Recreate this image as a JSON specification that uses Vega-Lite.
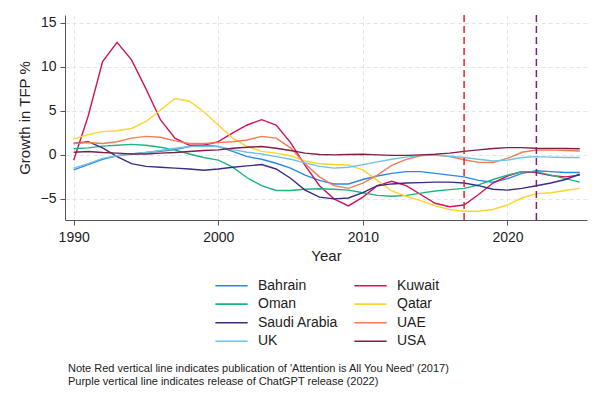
{
  "$schema": "https://vega.github.io/schema/vega-lite/v6.json",
  "width": 522,
  "height": 205,
  "autosize": {"type": "none"},
  "padding": {"left": 65, "top": 15, "right": 15, "bottom": 181},
  "background": "white",
  "title": {
    "text": ["Note Red vertical line indicates publication of 'Attention is All You Need' (2017)", "Purple vertical line indicates release of ChatGPT release (2022)"],
    "orient": "bottom",
    "anchor": "start",
    "frame": "group",
    "dx": 3,
    "offset": 14,
    "fontSize": 11,
    "fontWeight": "normal",
    "font": "Liberation Sans",
    "color": "#222",
    "lineHeight": 13
  },
  "datasets": {
    "tfp": [
      {"year": 1990, "Bahrain": -1.7, "Kuwait": -0.6, "Oman": 0.7, "Qatar": 1.8, "Saudi Arabia": 1.3, "UAE": 1.3, "UK": -1.5, "USA": 0.3},
      {"year": 1991, "Bahrain": -1.1, "Kuwait": 4.4, "Oman": 0.8, "Qatar": 2.3, "Saudi Arabia": 1.5, "UAE": 1.4, "UK": -1.0, "USA": 0.38},
      {"year": 1992, "Bahrain": -0.5, "Kuwait": 10.6, "Oman": 1.0, "Qatar": 2.65, "Saudi Arabia": 0.8, "UAE": 1.3, "UK": -0.4, "USA": 0.27},
      {"year": 1993, "Bahrain": -0.1, "Kuwait": 12.8, "Oman": 1.1, "Qatar": 2.75, "Saudi Arabia": -0.2, "UAE": 1.5, "UK": -0.1, "USA": 0.2},
      {"year": 1994, "Bahrain": 0.1, "Kuwait": 10.8, "Oman": 1.2, "Qatar": 3.0, "Saudi Arabia": -1.0, "UAE": 1.9, "UK": 0.1, "USA": 0.1},
      {"year": 1995, "Bahrain": 0.27, "Kuwait": 7.5, "Oman": 1.1, "Qatar": 3.8, "Saudi Arabia": -1.3, "UAE": 2.1, "UK": 0.27, "USA": 0.1},
      {"year": 1996, "Bahrain": 0.4, "Kuwait": 4.0, "Oman": 0.87, "Qatar": 5.1, "Saudi Arabia": -1.4, "UAE": 2.0, "UK": 0.5, "USA": 0.2},
      {"year": 1997, "Bahrain": 0.6, "Kuwait": 1.9, "Oman": 0.57, "Qatar": 6.4, "Saudi Arabia": -1.5, "UAE": 1.6, "UK": 0.75, "USA": 0.27},
      {"year": 1998, "Bahrain": 0.95, "Kuwait": 1.1, "Oman": 0.1, "Qatar": 6.1, "Saudi Arabia": -1.6, "UAE": 1.3, "UK": 0.95, "USA": 0.38},
      {"year": 1999, "Bahrain": 1.1, "Kuwait": 1.1, "Oman": -0.3, "Qatar": 4.9, "Saudi Arabia": -1.75, "UAE": 1.3, "UK": 1.0, "USA": 0.5},
      {"year": 2000, "Bahrain": 0.95, "Kuwait": 1.5, "Oman": -0.6, "Qatar": 3.4, "Saudi Arabia": -1.6, "UAE": 1.4, "UK": 0.95, "USA": 0.57},
      {"year": 2001, "Bahrain": 0.4, "Kuwait": 2.5, "Oman": -1.4, "Qatar": 1.9, "Saudi Arabia": -1.4, "UAE": 1.5, "UK": 0.6, "USA": 0.76},
      {"year": 2002, "Bahrain": -0.2, "Kuwait": 3.4, "Oman": -2.6, "Qatar": 0.95, "Saudi Arabia": -1.25, "UAE": 1.7, "UK": 0.3, "USA": 0.87},
      {"year": 2003, "Bahrain": -0.5, "Kuwait": 4.0, "Oman": -3.5, "Qatar": 0.4, "Saudi Arabia": -1.1, "UAE": 2.1, "UK": 0.1, "USA": 0.95},
      {"year": 2004, "Bahrain": -0.95, "Kuwait": 3.4, "Oman": -4.05, "Qatar": 0.2, "Saudi Arabia": -1.6, "UAE": 1.9, "UK": -0.2, "USA": 0.76},
      {"year": 2005, "Bahrain": -1.5, "Kuwait": 1.4, "Oman": -4.05, "Qatar": -0.1, "Saudi Arabia": -2.65, "UAE": 0.8, "UK": -0.5, "USA": 0.5},
      {"year": 2006, "Bahrain": -2.3, "Kuwait": -1.2, "Oman": -3.9, "Qatar": -0.7, "Saudi Arabia": -4.0, "UAE": -1.0, "UK": -0.9, "USA": 0.2},
      {"year": 2007, "Bahrain": -2.9, "Kuwait": -3.5, "Oman": -3.85, "Qatar": -1.0, "Saudi Arabia": -4.8, "UAE": -2.5, "UK": -1.3, "USA": 0.05},
      {"year": 2008, "Bahrain": -3.3, "Kuwait": -5.0, "Oman": -3.9, "Qatar": -1.1, "Saudi Arabia": -5.0, "UAE": -3.5, "UK": -1.5, "USA": 0.0},
      {"year": 2009, "Bahrain": -3.3, "Kuwait": -5.8, "Oman": -4.0, "Qatar": -1.15, "Saudi Arabia": -4.9, "UAE": -3.8, "UK": -1.4, "USA": 0.05},
      {"year": 2010, "Bahrain": -2.8, "Kuwait": -4.8, "Oman": -4.3, "Qatar": -1.7, "Saudi Arabia": -4.3, "UAE": -3.2, "UK": -1.1, "USA": 0.08},
      {"year": 2011, "Bahrain": -2.4, "Kuwait": -3.5, "Oman": -4.6, "Qatar": -2.9, "Saudi Arabia": -3.5, "UAE": -2.3, "UK": -0.8, "USA": 0.0},
      {"year": 2012, "Bahrain": -2.1, "Kuwait": -3.0, "Oman": -4.7, "Qatar": -4.1, "Saudi Arabia": -3.3, "UAE": -1.2, "UK": -0.5, "USA": -0.05},
      {"year": 2013, "Bahrain": -1.9, "Kuwait": -3.5, "Oman": -4.6, "Qatar": -4.7, "Saudi Arabia": -3.2, "UAE": -0.5, "UK": -0.25, "USA": -0.05},
      {"year": 2014, "Bahrain": -1.9, "Kuwait": -4.5, "Oman": -4.35, "Qatar": -5.2, "Saudi Arabia": -3.15, "UAE": -0.1, "UK": -0.05, "USA": 0.0},
      {"year": 2015, "Bahrain": -2.1, "Kuwait": -5.5, "Oman": -4.1, "Qatar": -5.8, "Saudi Arabia": -3.1, "UAE": 0.0, "UK": -0.05, "USA": 0.08},
      {"year": 2016, "Bahrain": -2.3, "Kuwait": -5.9, "Oman": -3.95, "Qatar": -6.2, "Saudi Arabia": -3.1, "UAE": -0.2, "UK": -0.15, "USA": 0.2},
      {"year": 2017, "Bahrain": -2.5, "Kuwait": -5.7, "Oman": -3.8, "Qatar": -6.4, "Saudi Arabia": -3.2, "UAE": -0.55, "UK": -0.3, "USA": 0.4},
      {"year": 2018, "Bahrain": -2.9, "Kuwait": -4.5, "Oman": -3.4, "Qatar": -6.4, "Saudi Arabia": -3.5, "UAE": -0.85, "UK": -0.5, "USA": 0.57},
      {"year": 2019, "Bahrain": -3.1, "Kuwait": -3.2, "Oman": -2.8, "Qatar": -6.2, "Saudi Arabia": -3.9, "UAE": -0.87, "UK": -0.7, "USA": 0.72},
      {"year": 2020, "Bahrain": -2.7, "Kuwait": -2.4, "Oman": -2.3, "Qatar": -5.7, "Saudi Arabia": -4.0, "UAE": -0.4, "UK": -0.6, "USA": 0.83},
      {"year": 2021, "Bahrain": -2.1, "Kuwait": -1.9, "Oman": -1.9, "Qatar": -4.9, "Saudi Arabia": -3.8, "UAE": 0.3, "UK": -0.3, "USA": 0.83},
      {"year": 2022, "Bahrain": -1.8, "Kuwait": -2.0, "Oman": -1.9, "Qatar": -4.4, "Saudi Arabia": -3.5, "UAE": 0.55, "UK": -0.2, "USA": 0.76},
      {"year": 2023, "Bahrain": -1.9, "Kuwait": -2.35, "Oman": -2.3, "Qatar": -4.3, "Saudi Arabia": -3.2, "UAE": 0.57, "UK": -0.25, "USA": 0.74},
      {"year": 2024, "Bahrain": -2.0, "Kuwait": -2.5, "Oman": -2.7, "Qatar": -4.05, "Saudi Arabia": -2.8, "UAE": 0.5, "UK": -0.3, "USA": 0.72},
      {"year": 2025, "Bahrain": -2.0, "Kuwait": -2.3, "Oman": -3.1, "Qatar": -3.8, "Saudi Arabia": -2.2, "UAE": 0.45, "UK": -0.3, "USA": 0.7}
    ]
  },
  "layer": [
    {
      "data": {"name": "tfp"},
      "transform": [
        {"fold": ["Bahrain", "Kuwait", "Oman", "Qatar", "Saudi Arabia", "UAE", "UK", "USA"], "as": ["country", "tfp"]}
      ],
      "mark": {"type": "line", "strokeWidth": 1.4},
      "encoding": {
        "x": {
          "field": "year",
          "type": "quantitative",
          "title": "Year",
          "scale": {"domain": [1989.4, 2025.5], "nice": false, "zero": false},
          "axis": {"values": [1990, 2000, 2010, 2020], "format": "d"}
        },
        "y": {
          "field": "tfp",
          "type": "quantitative",
          "title": "Growth in TFP %",
          "scale": {"domain": [-7.4, 15.9], "nice": false},
          "axis": {"values": [-5, 0, 5, 10, 15]}
        },
        "color": {
          "field": "country",
          "type": "nominal",
          "scale": {
            "domain": ["Bahrain", "Oman", "Saudi Arabia", "UK", "Kuwait", "Qatar", "UAE", "USA"],
            "range": ["#2b88e8", "#1db57f", "#3b2c85", "#70c1e6", "#d41159", "#fad52e", "#f47b55", "#7e2046"]
          },
          "legend": {
            "title": null,
            "orient": "none",
            "legendX": 156,
            "legendY": 260,
            "columns": 2,
            "columnPadding": 12,
            "rowPadding": 0.6,
            "symbolType": "M-1.7,0H1.7",
            "symbolSize": 361,
            "symbolStrokeWidth": 1.6,
            "labelFontSize": 14,
            "labelFont": "Liberation Sans",
            "labelColor": "#222",
            "labelOffset": 16
          }
        }
      }
    },
    {
      "data": {"values": [{"year": 2017}]},
      "mark": {"type": "rule", "color": "#e3242b", "strokeWidth": 1.5, "strokeDash": [7, 4]},
      "encoding": {"x": {"field": "year", "type": "quantitative"}}
    },
    {
      "data": {"values": [{"year": 2022}]},
      "mark": {"type": "rule", "color": "#7a1f86", "strokeWidth": 1.5, "strokeDash": [7, 4]},
      "encoding": {"x": {"field": "year", "type": "quantitative"}}
    }
  ],
  "config": {
    "font": "Liberation Sans",
    "view": {"stroke": null},
    "axis": {
      "domainColor": "#555",
      "tickColor": "#555",
      "tickSize": 5,
      "labelFontSize": 14,
      "labelColor": "#222",
      "titleFontSize": 15,
      "titleFontWeight": "normal",
      "titleColor": "#222",
      "gridColor": "#e4e4e4",
      "gridDash": [4, 3]
    },
    "axisX": {"labelPadding": 5, "titlePadding": 4},
    "axisY": {"labelPadding": 4, "titlePadding": 8}
  }
}
